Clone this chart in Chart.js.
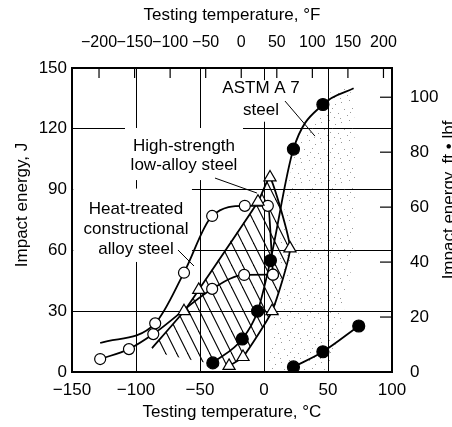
<!DOCTYPE html>
<html>
<head>
<meta charset="utf-8">
<script src="https://cdn.jsdelivr.net/npm/chart.js@4.4.1/dist/chart.umd.min.js"></script>
<style>
  body { margin: 0; background: #fff; }
  canvas { display: block; }
</style>
</head>
<body>
<canvas id="charpy" width="452" height="427"></canvas>
<script>
// Axis ticks: Celsius / joules, with Fahrenheit and ft-lbf duplicates
const tempTicksC = [-150, -100, -50, 0, 50, 100];
const tempTicksF = [-200, -150, -100, -50, 0, 50, 100, 150, 200];
const energyTicksJ = [0, 30, 60, 90, 120, 150];
const energyTicksFtLbf = [0, 20, 40, 60, 80, 100];

// ASTM A 7 steel (filled circles); the last vertex only carries the line on
const astmTemp = [-40, -17, -5, 5, 23, 46, 70];
const astmEnergy = [4.5, 16.3, 30, 55, 110, 132, 140];
const astmLowTemp = [23, 46, 74];
const astmLowEnergy = [2.5, 10, 22.7];

// Heat-treated constructional alloy steel (open circles), upper and lower curves
const htUpperTemp = [-128, -85, -62.5, -40.5, -15, 3, 7];
const htUpperEnergy = [14.3, 24, 49, 77, 82, 82, 48];
const htLowerTemp = [-128, -105.5, -86.5, -40.5, -15.5, 7];
const htLowerEnergy = [6.4, 11.3, 18.7, 41, 47.9, 48];

// High-strength low-alloy steel (triangles), outline of the scatter band
const hslaTemp = [-87.5, -62.5, -51, -4.7, 4.7, 20.3, 6.3, -16.4, -27.3];
const hslaEnergy = [11.8, 30, 40.5, 84, 96, 61, 30, 7.4, 3];

// Hatched HSLA band and stippled zone right of the A 7 curve
const hatchTemp = [-87.5, -62.5, -51, -28, -4.7, 4.7, 20.3, 6.3, -16.4, -27.3, -35, -50, -65, -80];
const hatchEnergy = [11.8, 30, 40.5, 63, 84, 96, 61, 30, 7.4, 3, 4, 5, 7, 9];
const stippleTemp = [44, 52, 66, 70, 71, 71, 69, 64, 58, 52, 50, 2, 6, 8, 10, 16, 24, 34];
const stippleEnergy = [128, 138, 140, 132, 110, 80, 55, 35, 18, 5, 0, 0, 15, 30, 50, 80, 108, 122];

// Leader lines from the text labels
const astmLeaderTemp = [16.4, 39.8];
const astmLeaderEnergy = [133.7, 116.4];
const hslaLeaderTemp = [-38.3, -5.5];
const hslaLeaderEnergy = [95.7, 88.3];
const htLeaderTemp = [-67.2, -54.7];
const htLeaderEnergy = [60.2, 52.3];

const J_PER_FTLBF = 1.35582;
const cToF = c => c * 1.8 + 32;
const FONT = '"Liberation Sans", Arial, Helvetica, sans-serif';

Chart.defaults.font.family = FONT;
Chart.defaults.color = '#000';

function pts(xs, ys) {
  return xs.map((v, i) => ({ x: v, y: ys[i] }));
}

// diagonal hatching tile
function hatchPattern() {
  const c = document.createElement('canvas');
  c.width = 11; c.height = 22;
  const g = c.getContext('2d');
  g.strokeStyle = '#000';
  g.lineWidth = 1.1;
  [-11, 0, 11].forEach(dx => {
    g.beginPath();
    g.moveTo(dx, 0);
    g.lineTo(dx + 11, 22);
    g.stroke();
  });
  return g.createPattern(c, 'repeat');
}

// sparse grey dots
function stipplePattern() {
  const c = document.createElement('canvas');
  c.width = 20; c.height = 20;
  const g = c.getContext('2d');
  g.fillStyle = 'rgba(70,70,70,0.55)';
  const dots = [[1, 2], [9, 0], [15, 4], [4, 9], [12, 8], [18, 13], [7, 15], [0, 18], [14, 17], [10, 12]];
  dots.forEach(([dx, dy]) => g.fillRect(dx, dy, 1, 1));
  return g.createPattern(c, 'repeat');
}

// label blocks: text centre and the white box behind it, in chart units
const labelBlocks = [
  { text: ['ASTM A 7', 'steel'], at: [-2.3, 140.1], gap: 22, box: [-36, 32, 144, 123.5] },
  { text: ['High-strength', 'low-alloy steel'], at: [-62.5, 111.5], gap: 19, box: [-108.6, -16.4, 120.4, 94.7] },
  { text: ['Heat-treated', 'constructional', 'alloy steel'], at: [-100, 80.4], gap: 20, box: [-149, -56.3, 90.5, 54.3] }
];

const overlay = {
  id: 'overlay',
  beforeDatasetsDraw(chart) {
    const { ctx, chartArea: a, scales } = chart;
    const x = scales.x, y = scales.y;
    ctx.save();

    // inward ticks for the °F and ft-lbf scales
    ctx.strokeStyle = '#000';
    ctx.lineWidth = 1.2;
    scales.xF.ticks.forEach(t => {
      const px = scales.xF.getPixelForValue(t.value);
      ctx.beginPath(); ctx.moveTo(px, a.top); ctx.lineTo(px, a.top + 10); ctx.stroke();
    });
    scales.yFt.ticks.forEach(t => {
      const py = scales.yFt.getPixelForValue(t.value);
      ctx.beginPath(); ctx.moveTo(a.right - 12, py); ctx.lineTo(a.right, py); ctx.stroke();
    });

    // text labels on white boxes
    ctx.font = '17px ' + FONT;
    ctx.textAlign = 'center';
    ctx.textBaseline = 'middle';
    labelBlocks.forEach(b => {
      const l = x.getPixelForValue(b.box[0]), r = x.getPixelForValue(b.box[1]);
      const t = y.getPixelForValue(b.box[2]), btm = y.getPixelForValue(b.box[3]);
      ctx.fillStyle = '#fff';
      ctx.fillRect(l, t, r - l, btm - t);
      ctx.fillStyle = '#000';
      const cx = x.getPixelForValue(b.at[0]);
      const cy = y.getPixelForValue(b.at[1]);
      b.text.forEach((line, i) => ctx.fillText(line, cx, cy + i * b.gap));
    });

    // vertical axis titles, both reading upwards
    const vTitle = (text, px, py) => {
      ctx.save();
      ctx.translate(px, py);
      ctx.rotate(-Math.PI / 2);
      ctx.fillText(text, 0, 0);
      ctx.restore();
    };
    vTitle('Impact energy, J', 22, 205);
    vTitle('Impact energy, ft \u2022 lbf', 449, 200);
    ctx.restore();
  }
};

const minus = v => String(v).replace('-', '\u2212');
const setTicks = list => s => { s.ticks = list.map(v => ({ value: v })); };
const tickFont = { size: 17 };

const lineStyle = {
  showLine: true,
  borderColor: '#000',
  borderWidth: 1.8,
  pointBorderColor: '#000',
  pointBorderWidth: 1.2,
  cubicInterpolationMode: 'monotone',
  order: 1
};

new Chart(document.getElementById('charpy'), {
  type: 'scatter',
  data: {
    datasets: [
      {
        data: pts(stippleTemp, stippleEnergy),
        showLine: true, borderWidth: 0, pointRadius: 0, tension: 0.2,
        fill: 'shape', backgroundColor: stipplePattern(), order: 6
      },
      {
        data: pts(hatchTemp, hatchEnergy),
        showLine: true, borderWidth: 0, pointRadius: 0, tension: 0.15,
        fill: 'shape', backgroundColor: hatchPattern(), order: 5
      },
      {
        ...lineStyle,
        data: pts(hslaTemp, hslaEnergy),
        cubicInterpolationMode: 'default', tension: 0.15,
        pointStyle: 'triangle',
        pointRadius: ctx => (ctx.dataIndex === 0 ? 0 : 7),
        pointBackgroundColor: '#fff'
      },
      {
        ...lineStyle,
        data: pts(htUpperTemp, htUpperEnergy),
        pointRadius: ctx => (ctx.dataIndex === 0 ? 0 : 5.5),
        pointBackgroundColor: '#fff'
      },
      {
        ...lineStyle,
        data: pts(htLowerTemp, htLowerEnergy),
        pointRadius: 5.5,
        pointBackgroundColor: '#fff'
      },
      {
        ...lineStyle,
        data: pts(astmTemp, astmEnergy),
        pointRadius: ctx => (ctx.dataIndex === astmTemp.length - 1 ? 0 : 6),
        pointBackgroundColor: '#000'
      },
      {
        ...lineStyle,
        data: pts(astmLowTemp, astmLowEnergy),
        pointRadius: 6,
        pointBackgroundColor: '#000'
      },
      ...[[astmLeaderTemp, astmLeaderEnergy], [hslaLeaderTemp, hslaLeaderEnergy], [htLeaderTemp, htLeaderEnergy]]
        .map(([t, e]) => ({
          data: pts(t, e), showLine: true, borderColor: '#000', borderWidth: 1,
          pointRadius: 0, order: 2
        }))
    ]
  },
  options: {
    responsive: false,
    animation: false,
    layout: { padding: 0 },
    plugins: { legend: { display: false }, tooltip: { enabled: false } },
    scales: {
      x: {
        type: 'linear', position: 'bottom', min: -150, max: 100,
        afterBuildTicks: setTicks(tempTicksC),
        afterFit: s => { s.height = 55; },
        grid: { color: '#000', lineWidth: 1, drawTicks: false },
        border: { color: '#000', width: 2 },
        ticks: { font: tickFont, padding: 8, maxRotation: 0, autoSkip: false, callback: minus },
        title: { display: true, text: 'Testing temperature, \u00B0C', font: { size: 17 }, padding: { top: 0, bottom: 4 } }
      },
      xF: {
        type: 'linear', position: 'top', min: cToF(-150), max: cToF(100),
        afterBuildTicks: setTicks(tempTicksF),
        afterFit: s => { s.height = 68; },
        grid: { display: false },
        border: { color: '#000', width: 2 },
        // labels sit shoulder to shoulder on this scale
        ticks: { font: { size: 16 }, padding: 8, maxRotation: 0, autoSkip: false, callback: minus },
        title: { display: true, text: 'Testing temperature, \u00B0F', font: { size: 17 }, padding: { top: 5, bottom: 0 } }
      },
      y: {
        type: 'linear', position: 'left', min: 0, max: 150,
        afterBuildTicks: setTicks(energyTicksJ),
        afterFit: s => { s.width = 72; },
        grid: { color: '#000', lineWidth: 1, drawTicks: false },
        border: { color: '#000', width: 2 },
        ticks: { font: tickFont, padding: 5, autoSkip: false }
      },
      yFt: {
        type: 'linear', position: 'right', min: 0, max: 150 / J_PER_FTLBF,
        afterBuildTicks: setTicks(energyTicksFtLbf),
        afterFit: s => { s.width = 60; },
        grid: { display: false },
        border: { color: '#000', width: 1.5 },
        ticks: { font: tickFont, padding: 10, autoSkip: false }
      }
    }
  },
  plugins: [overlay]
});
</script>
</body>
</html>
